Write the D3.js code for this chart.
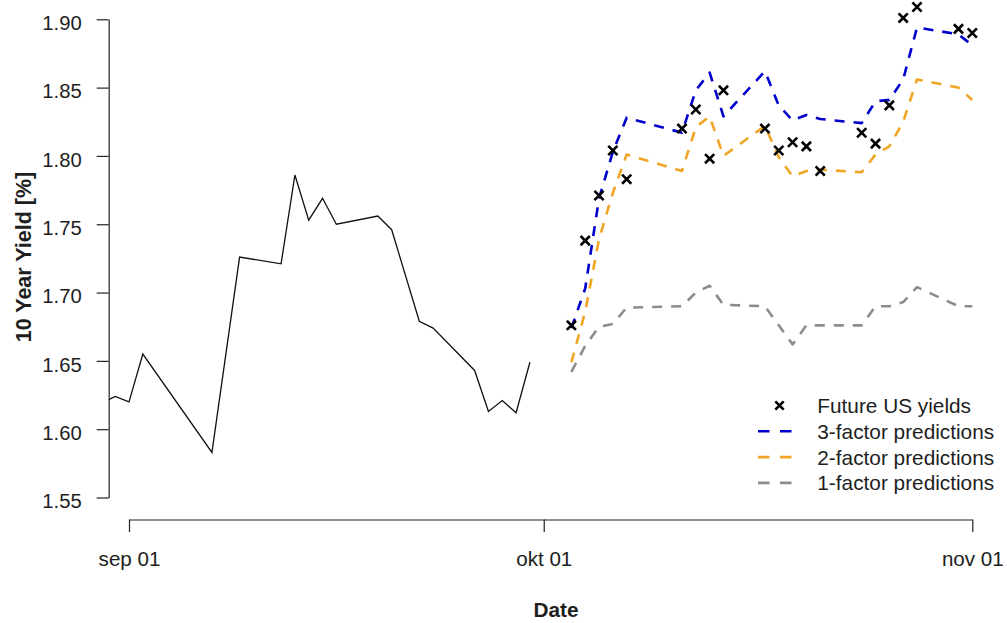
<!DOCTYPE html>
<html>
<head>
<meta charset="utf-8">
<script src="https://cdn.jsdelivr.net/npm/d3@7"></script>
<style>
  html, body { margin: 0; padding: 0; background: #fff; }
  svg { display: block; font-family: "Liberation Sans", Arial, sans-serif; }
</style>
</head>
<body>
<svg id="chart" width="1007" height="623"></svg>
<script>
// ---------- data ----------
const histDates = ["2016-08-30","2016-08-31","2016-09-01","2016-09-02","2016-09-07","2016-09-09",
  "2016-09-12","2016-09-13","2016-09-14","2016-09-15","2016-09-16","2016-09-19","2016-09-20",
  "2016-09-22","2016-09-23","2016-09-26","2016-09-27","2016-09-28","2016-09-29","2016-09-30"];
const histYields = [1.619,1.624,1.620,1.655,1.583,1.726,1.721,1.786,1.753,1.769,1.750,1.756,1.746,
  1.679,1.674,1.643,1.613,1.621,1.612,1.649];

const futureDates = ["2016-10-03","2016-10-04","2016-10-05","2016-10-06","2016-10-07","2016-10-11",
  "2016-10-12","2016-10-13","2016-10-14","2016-10-17","2016-10-18","2016-10-19","2016-10-20",
  "2016-10-21","2016-10-24","2016-10-25","2016-10-26","2016-10-27","2016-10-28","2016-10-31","2016-11-01"];
const futureYields = [1.676,1.738,1.771,1.804,1.783,1.820,1.834,1.798,1.848,1.820,1.804,1.810,1.807,
  1.789,1.817,1.809,1.837,1.901,1.909,1.893,1.890];
const pred3 = [1.674,1.703,1.769,1.803,1.828,1.817,1.848,1.861,1.829,1.862,1.837,1.826,1.830,
  1.827,1.824,1.840,1.841,1.856,1.894,1.889,1.881];
const pred2 = [1.649,1.686,1.739,1.773,1.801,1.789,1.821,1.829,1.800,1.822,1.799,1.785,1.789,
  1.790,1.788,1.801,1.807,1.825,1.856,1.850,1.841];
const pred1 = [1.642,1.661,1.675,1.677,1.689,1.690,1.700,1.705,1.691,1.690,1.676,1.662,1.676,
  1.676,1.676,1.690,1.690,1.693,1.704,1.690,1.690];

const yTicks = [1.55,1.60,1.65,1.70,1.75,1.80,1.85,1.90];
const xTickDates = ["2016-09-01","2016-10-01","2016-11-01"];
const xTickLabels = ["sep 01","okt 01","nov 01"];

const legendLabels = ["Future US yields","3-factor predictions","2-factor predictions","1-factor predictions"];
const seriesColors = ["#000000","#0000CD","#F0A624","#8C8C8C"];

// ---------- setup ----------
const parse = d3.utcParse("%Y-%m-%d");
const svg = d3.select("#chart");
const textColor = "#1e1e1e";

const x = d3.scaleUtc()
  .domain([parse(xTickDates[0]), parse(xTickDates[2])])
  .range([129, 972.3]);
const y = d3.scaleLinear().domain([1.55, 1.90]).range([497.5, 19.3]);

svg.append("defs").append("clipPath").attr("id","plotclip")
  .append("rect").attr("x",108.7).attr("y",0).attr("width",1007-108.7).attr("height",519);

const plot = svg.append("g").attr("clip-path","url(#plotclip)");

// history line
const hist = histDates.map((d,i)=>({date:parse(d), v:histYields[i]}));
const line = d3.line().x(d=>x(d.date)).y(d=>y(d.v));
plot.append("path").datum(hist).attr("d", line)
  .attr("fill","none").attr("stroke","#111").attr("stroke-width",1.3).attr("stroke-linejoin","miter");

// predictions
const predSeries = [pred1, pred2, pred3];
const predColors = [seriesColors[3], seriesColors[2], seriesColors[1]];
predSeries.forEach((arr, k) => {
  const pts = futureDates.map((d,i)=>({date:parse(d), v:arr[i]}));
  plot.append("path").datum(pts).attr("d", line)
    .attr("fill","none").attr("stroke",predColors[k]).attr("stroke-width",2.6)
    .attr("stroke-dasharray","10,9").attr("stroke-linejoin","round");
});

// future yield crosses
const cross = (sel, s) => sel.append("path")
  .attr("d", `M${-s},${-s}L${s},${s}M${-s},${s}L${s},${-s}`)
  .attr("stroke","#000").attr("stroke-width",2.6).attr("fill","none");
futureDates.forEach((d,i)=>{
  const g = plot.append("g").attr("transform",`translate(${x(parse(d))},${y(futureYields[i])})`);
  cross(g, 4.6);
});

// ---------- axes ----------
const yAxis = svg.append("g").attr("transform","translate(108.7,0)")
  .call(d3.axisLeft(y).tickValues(yTicks).tickFormat(d3.format(".2f"))
    .tickSize(12).tickSizeOuter(0).tickPadding(15));
yAxis.selectAll("text").attr("dy","0.5em").attr("font-size",20.3).attr("fill",textColor)
  .attr("font-family","'Liberation Sans', Arial, sans-serif");
yAxis.selectAll("path, line").attr("stroke","#222").attr("stroke-width",1.2);

const xAxis = svg.append("g").attr("transform","translate(0,519.5)")
  .call(d3.axisBottom(x).tickValues(xTickDates.map(parse))
    .tickFormat((d,i)=>xTickLabels[i]).tickSize(12.5).tickSizeOuter(0));
xAxis.selectAll("text").attr("y",46).attr("dy",0).attr("font-size",20.6).attr("fill",textColor)
  .attr("font-family","'Liberation Sans', Arial, sans-serif");
xAxis.selectAll("path, line").attr("stroke","#222").attr("stroke-width",1.2);

// axis titles
svg.append("text").attr("transform","translate(30.5,257) rotate(-90)")
  .attr("text-anchor","middle").attr("font-weight","bold").attr("font-size",21.5)
  .attr("fill",textColor).text("10 Year Yield [%]");
svg.append("text").attr("x",556).attr("y",616.5)
  .attr("text-anchor","middle").attr("font-weight","bold").attr("font-size",20.8)
  .attr("fill",textColor).text("Date");

// ---------- legend ----------
const leg = svg.append("g");
legendLabels.forEach((lab,i)=>{
  const base = 413 + i*25.8;
  const cy = base - 7.5;
  if (i === 0) {
    const g = leg.append("g").attr("transform",`translate(779.5,${cy})`);
    cross(g, 4.2);
  } else {
    leg.append("line").attr("x1",758).attr("x2",792).attr("y1",cy).attr("y2",cy)
      .attr("stroke",seriesColors[i]).attr("stroke-width",2.6).attr("stroke-dasharray","11.5,10.5");
  }
  leg.append("text").attr("x",817.3).attr("y",base).attr("font-size",20.8)
    .attr("fill",textColor).text(lab);
});
</script>
</body>
</html>
